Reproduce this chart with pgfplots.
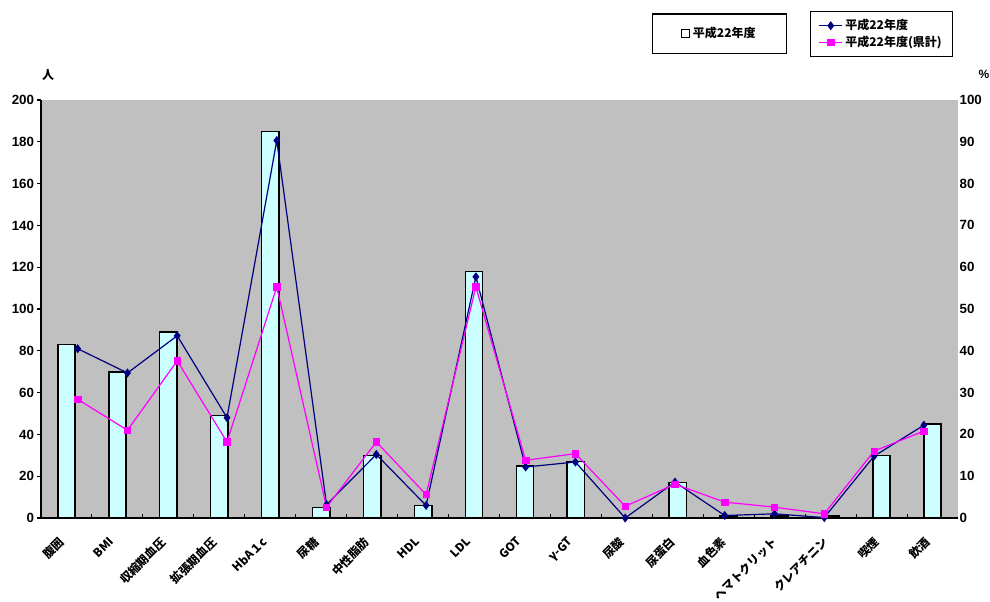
\documentclass[border=0pt]{standalone}
\usepackage{fontspec}
\setmainfont{Liberation Sans}
\newfontfamily\cjk{Noto Sans CJK JP}
\usepackage{pgfplots}
\pgfplotsset{compat=1.18}
\usepackage{pgfplotstable}

\definecolor{plotgray}{RGB}{192,192,192}
\definecolor{barfill}{RGB}{204,255,255}
\definecolor{navyline}{RGB}{0,0,128}
\definecolor{pinkline}{RGB}{255,0,255}

% number of people per item (left axis)
\pgfplotstableread{
idx people
0  83
1  70
2  89
3  49
4  185
5  5
6  30
7  6
8  118
9  25
10 27
11 0
12 17
13 1
14 1
15 1
16 30
17 45
}\counts

% rates in percent (right axis): own municipality and prefecture total
\pgfplotstableread{
pos    own  pref
0.220  40.5 28.4
1.197  34.7 21.0
2.174  43.6 37.6
3.151  24.0 18.2
4.128  90.3 55.3
5.105  3.2  2.6
6.082  15.2 18.2
7.059  3.0  5.6
8.036  57.7 55.3
9.013  12.2 13.8
9.990  13.4 15.4
10.967 0.0  2.8
11.944 8.6  8.1
12.921 0.6  3.8
13.898 1.0  2.6
14.875 0.1  1.0
15.852 14.8 16.0
16.829 22.2 20.8
}\rates

\begin{document}
\begin{tikzpicture}
\useasboundingbox (0pt,0pt) rectangle (742.5pt,-450.75pt);

\begin{axis}[
  at={(30.75pt,-388.5pt)}, anchor=south west,
  scale only axis, width=687.75pt, height=313.5pt,
  xmin=-0.5, xmax=17.5, ymin=0, ymax=200,
  axis background/.style={fill=plotgray},
  axis x line*=bottom, axis y line*=left,
  axis line style={black, line width=0.9pt},
  ytick={0,20,...,200},
  tick align=outside,
  major tick length=3pt,
  minor tick length=3pt,
  y tick style={black, line width=0.8pt},
  xtick={0,...,17},
  major x tick style={draw=none},
  minor xtick={0.5,1.5,...,16.5},
  minor x tick style={black, line width=0.8pt, yshift=3pt},
  xticklabels={腹囲,BMI,収縮期血圧,拡張期血圧,HbA１c,尿糖,中性脂肪,HDL,LDL,GOT,γ-GT,尿酸,尿蛋白,血色素,ヘマトクリット,クレアチニン,喫煙,飲酒},
  xticklabel style={font=\cjk\bfseries\fontsize{8.8}{8.8}\selectfont, rotate=45, anchor=north east, inner sep=0.5pt, xshift=-11.5pt, yshift=-2pt},
  yticklabel style={font=\bfseries\fontsize{10}{10}\selectfont, inner sep=2pt},
  /pgf/number format/assume math mode=true,
  legend style={at={(0.740,1.159)}, anchor=center, draw=black, line width=0.8pt,
    font=\cjk\bfseries\fontsize{9}{9}\selectfont, inner xsep=21pt, inner ysep=8pt},
  legend image code/.code={\draw[black, line width=0.6pt, fill=white] (0pt,-3.2pt) rectangle (6.4pt,3.2pt);},
]
\addplot[ybar, bar width=13pt, fill=barfill, draw=black, line width=1.2pt] table[x=idx, y=people]{\counts};
\addlegendentry{平成22年度}
\end{axis}

\begin{axis}[
  at={(30.75pt,-388.5pt)}, anchor=south west,
  scale only axis, width=687.75pt, height=313.5pt,
  xmin=-0.5, xmax=17.5, ymin=0, ymax=100,
  axis x line=none, axis y line*=right,
  y axis line style={draw=none},
  ytick={0,10,...,100},
  major tick length=0pt,
  yticklabel style={font=\bfseries\fontsize{10}{10}\selectfont, inner sep=1pt},
  /pgf/number format/assume math mode=true,
  legend style={at={(0.9166,1.158)}, anchor=center, draw=black, line width=0.8pt,
    font=\cjk\bfseries\fontsize{9}{9}\selectfont, inner xsep=6pt, inner ysep=4pt,
    row sep=-1pt},
  legend cell align=left,
]
\addplot[navyline, line width=0.9pt, mark=diamond*, mark size=3pt, mark options={fill=navyline, line width=0.5pt}] table[x=pos, y=own]{\rates};
\addlegendentry{平成22年度}
\addplot[pinkline, line width=0.9pt, mark=square*, mark size=2.4pt, mark options={fill=pinkline, line width=0.5pt}] table[x=pos, y=pref]{\rates};
\addlegendentry{平成22年度(県計)}
\end{axis}

\node[font=\cjk\bfseries\fontsize{9}{9}\selectfont] at (36pt,-56pt) {人};
\node[font=\bfseries\fontsize{9}{9}\selectfont] at (738pt,-56pt) {\%};
\end{tikzpicture}
\end{document}
